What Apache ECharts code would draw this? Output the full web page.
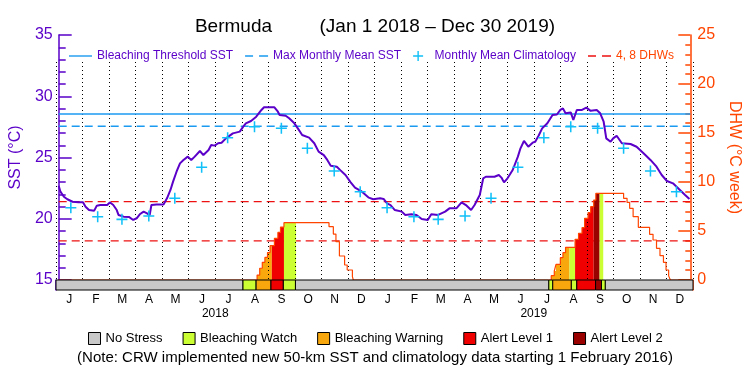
<!DOCTYPE html>
<html>
<head>
<meta charset="utf-8">
<script src="https://cdn.jsdelivr.net/npm/echarts@6/dist/echarts.min.js"></script>
<style>
  html, body { margin: 0; padding: 0; background: #fff; }
  #chart { width: 750px; height: 375px; }
</style>
</head>
<body>
<div id="chart"></div>
<script>
// ---- data (days counted from Jan 1 2018) ----
var startDate = Date.UTC(2018, 0, 1);
var endDay = 729;
var monthLabels = ['J','F','M','A','M','J','J','A','S','O','N','D','J','F','M','A','M','J','J','A','S','O','N','D'];
var yearLabels = ['2018', '2019'];

// daily SST (purple line)
var sstDays = [0, 2, 6, 10, 16, 23, 28, 31, 35, 41, 44, 48, 56, 59, 63, 67, 69, 75, 81, 86, 90, 94, 98, 102, 105, 107, 113, 121, 125, 129, 132, 136, 140, 144, 149, 153, 157, 163, 167, 173, 176, 180, 184, 188, 193, 201, 209, 213, 216, 222, 228, 234, 237, 249, 253, 255, 262, 266, 272, 276, 281, 289, 295, 300, 306, 310, 314, 321, 325, 331, 337, 342, 350, 358, 363, 371, 375, 379, 383, 388, 396, 400, 407, 413, 419, 426, 430, 438, 446, 451, 459, 465, 470, 476, 480, 486, 490, 493, 503, 508, 511, 514, 518, 524, 530, 533, 537, 542, 547, 550, 554, 558, 564, 570, 575, 579, 582, 585, 591, 594, 598, 604, 609, 614, 621, 625, 629, 632, 637, 640, 644, 650, 660, 667, 675, 683, 690, 696, 702, 709, 717, 723, 728];
var sstValues = [22.70, 22.21, 21.80, 21.59, 21.39, 21.34, 21.34, 20.98, 20.71, 20.66, 21.07, 21.12, 21.12, 21.34, 21.12, 20.71, 20.31, 20.17, 20.15, 19.90, 20.04, 20.39, 20.58, 20.44, 20.30, 21.12, 21.17, 21.17, 21.67, 22.35, 23.03, 23.84, 24.52, 24.80, 25.07, 24.80, 25.07, 25.53, 25.20, 25.61, 26.02, 25.97, 26.16, 26.21, 26.56, 26.97, 27.11, 27.52, 27.79, 27.98, 28.33, 28.88, 29.10, 29.10, 28.74, 28.47, 28.41, 28.20, 27.79, 27.38, 26.84, 26.62, 26.16, 25.48, 25.20, 24.80, 24.33, 24.25, 23.97, 23.57, 22.97, 22.54, 22.21, 21.72, 21.59, 21.67, 21.62, 21.26, 21.12, 20.71, 20.58, 20.31, 20.37, 20.31, 19.98, 19.90, 20.37, 20.31, 20.58, 20.85, 20.85, 21.34, 21.12, 20.71, 21.12, 21.94, 23.30, 23.43, 23.43, 23.57, 23.36, 22.97, 23.30, 23.98, 25.07, 25.75, 26.35, 25.88, 26.21, 26.29, 26.80, 27.38, 27.79, 28.47, 28.51, 28.88, 29.01, 28.61, 28.68, 28.06, 28.88, 28.88, 29.07, 28.81, 28.88, 28.61, 27.92, 26.56, 26.29, 26.56, 26.78, 26.16, 26.10, 25.88, 25.34, 24.80, 24.25, 23.57, 23.08, 22.89, 22.35, 21.94, 21.61];

// monthly mean climatology (mid-month crosses), repeated each year
var climMidDays = [14, 45, 73, 104, 134, 165, 195, 226, 257, 287, 318, 348];
var climValues = [20.90, 20.17, 19.95, 20.22, 21.67, 24.20, 26.62, 27.51, 27.38, 25.75, 23.90, 22.21];
var climYears = [0, 365];

var mmmSst = 27.55;
var thresholdSst = 28.55;
var dhwLevels = [4, 8];

// degree heating weeks, change points (value holds until next day listed)
var dhwDays = [0, 229, 232, 235, 238, 241, 244, 249, 253, 256, 260, 312, 317, 320, 324, 330, 333, 339, 340, 568.5, 572, 574, 579, 582, 585, 596, 600, 604, 607, 611, 614, 617.5, 620, 652, 656, 659, 663, 669, 682, 686, 690, 694, 698, 701, 704, 706, 729];
var dhwValues = [0, 0.50, 1.20, 1.80, 2.30, 2.80, 3.50, 4.25, 4.85, 5.40, 5.85, 5.44, 4.69, 3.91, 2.45, 1.53, 1.02, 0.34, 0, 0.44, 0.92, 1.60, 2.28, 2.79, 3.33, 4.15, 4.76, 5.34, 6.29, 6.87, 7.48, 8.16, 8.84, 8.33, 7.92, 7.31, 6.46, 5.37, 4.66, 4.08, 3.23, 2.48, 1.80, 1.02, 0.42, 0, 0];

// bleaching alert status, change points
var statusDays = [0, 214, 229, 246, 260, 274, 564, 568.5, 589.6, 596, 617.5, 624.3, 628.5];
var statusLevels = [0, 1, 2, 3, 1, 0, 1, 2, 1, 3, 4, 1, 0];
var statusNames = ['No Stress', 'Bleaching Watch', 'Bleaching Warning', 'Alert Level 1', 'Alert Level 2'];
var statusColors = ['#c8c8c8', '#ccff33', '#f8a80c', '#f00000', '#990000'];

// ---- helpers ----
var DAY = 86400000;
function ts(d) { return startDate + d * DAY; }
function dayOf(t) { return (t - startDate) / DAY; }
function dhwAt(d) {
  var v = 0;
  for (var i = 0; i < dhwDays.length; i++) { if (dhwDays[i] <= d) v = dhwValues[i]; }
  return v;
}

var purple = '#5a00c8';
var orange = '#ff4500';
var blue = '#1a9af0';
var red = '#ee1111';
var solidIcon = 'path://M0,4H23V5.4H0Z';
var dashIcon = 'path://M0,4H8V5.4H0Z M14,4H23V5.4H14Z';

var sstData = sstDays.map(function (d, i) { return [ts(d), sstValues[i]]; });
var dhwData = dhwDays.map(function (d, i) { return [ts(d), dhwValues[i]]; });
var climData = [];
climYears.forEach(function (y) {
  climMidDays.forEach(function (d, i) { climData.push([ts(y + d), climValues[i]]); });
});

// status periods
var periods = [];
for (var i = 0; i < statusDays.length; i++) {
  var e = i + 1 < statusDays.length ? statusDays[i + 1] : endDay;
  periods.push([ts(statusDays[i]), ts(e), statusLevels[i]]);
}

var statusSeries = statusNames.map(function (name, lvl) {
  return {
    name: name,
    type: 'custom',
    xAxisIndex: 3,
    yAxisIndex: 3,
    z: 5,
    itemStyle: { color: statusColors[lvl] },
    encode: { x: [0, 1] },
    data: periods.filter(function (p) { return p[2] === lvl; }),
    renderItem: function (params, api) {
      var p0 = api.coord([api.value(0), 0]);
      var p1 = api.coord([api.value(1), 1]);
      return {
        type: 'rect',
        shape: { x: p0[0], y: p1[1], width: p1[0] - p0[0], height: p0[1] - p1[1] },
        style: { fill: statusColors[lvl], stroke: '#000', lineWidth: 1 }
      };
    }
  };
});

// coloured fill under the DHW curve, by status
var fillSeries = {
  name: 'dhwFill',
  type: 'custom',
  xAxisIndex: 0,
  yAxisIndex: 1,
  z: 2,
  encode: { x: [0, 1] },
  data: periods.filter(function (p) { return p[2] > 0; }),
  renderItem: function (params, api) {
    var s = api.value(0), e = api.value(1), lvl = api.value(2);
    var sd = dayOf(s), ed = dayOf(e);
    var v = dhwAt(sd);
    var pts = [api.coord([s, 0]), api.coord([s, v])];
    for (var i = 0; i < dhwDays.length; i++) {
      if (dhwDays[i] > sd && dhwDays[i] < ed) {
        pts.push(api.coord([ts(dhwDays[i]), v]));
        v = dhwValues[i];
        pts.push(api.coord([ts(dhwDays[i]), v]));
      }
    }
    pts.push(api.coord([e, v]));
    pts.push(api.coord([e, 0]));
    return { type: 'polygon', shape: { points: pts }, style: { fill: statusColors[lvl] } };
  }
};

var chart = echarts.init(document.getElementById('chart'));
chart.setOption({
  animation: false,
  textStyle: { fontFamily: 'Liberation Sans' },
  title: [
    {
      text: 'Bermuda         (Jan 1 2018 \u2013 Dec 30 2019)',
      left: 'center', top: 12,
      textStyle: { fontSize: 19, fontWeight: 'normal', color: '#000' }
    },
    {
      text: '(Note: CRW implemented new 50-km SST and climatology data starting 1 February 2016)',
      left: 'center', top: 345,
      textStyle: { fontSize: 15, fontWeight: 'normal', color: '#000' }
    }
  ],
  legend: [
    {
      left: 64, top: 45,
      itemWidth: 23, itemHeight: 10, itemGap: 12,
      textStyle: { color: purple, fontSize: 12 },
      data: [
        { name: 'Bleaching Threshold SST', icon: solidIcon },
        { name: 'Max Monthly Mean SST', icon: dashIcon },
        { name: 'Monthly Mean Climatology' },
        { name: '4, 8 DHWs', icon: dashIcon, textStyle: { color: orange } }
      ]
    },
    {
      left: 83, top: 327,
      itemWidth: 12, itemHeight: 12, itemGap: 20,
      icon: 'rect',
      itemStyle: { borderColor: '#000', borderWidth: 1 },
      textStyle: { color: '#000', fontSize: 13 },
      data: statusNames
    }
  ],
  grid: [
    { left: 56, right: 57, top: 35, bottom: 95 },
    { left: 56, right: 57, top: 62, bottom: 95 },
    { left: 56, right: 57, top: 280, height: 10 }
  ],
  xAxis: [
    {
      type: 'time', gridIndex: 0, position: 'top', min: ts(0), max: ts(endDay),
      axisLine: { lineStyle: { color: '#000', width: 1 } },
      axisTick: { show: false }, axisLabel: { show: false }, splitLine: { show: false }
    },
    {
      type: 'category', gridIndex: 1, position: 'bottom', data: monthLabels, boundaryGap: true, z: 3,
      axisLine: { show: false }, axisTick: { show: false },
      axisLabel: { interval: 0, color: '#000', fontSize: 12, margin: 14 },
      splitLine: { show: true, interval: 0, lineStyle: { color: '#000', type: [1, 3], width: 1 } }
    },
    {
      type: 'category', gridIndex: 1, position: 'bottom', data: yearLabels, boundaryGap: true, offset: 14,
      axisLine: { show: false }, axisTick: { show: false },
      axisLabel: { interval: 0, color: '#000', fontSize: 12, margin: 14 },
      splitLine: { show: false }
    },
    { type: 'time', gridIndex: 2, min: ts(0), max: ts(endDay), show: false }
  ],
  yAxis: [
    {
      type: 'value', gridIndex: 0, position: 'left', min: 15, max: 35, interval: 5,
      name: 'SST (\u00b0C)', nameLocation: 'middle', nameGap: 33, nameRotate: 90,
      nameTextStyle: { color: purple, fontSize: 16 },
      axisLine: { show: true, lineStyle: { color: purple, width: 1.5 } },
      axisTick: { show: true, inside: true, length: 13, lineStyle: { color: purple, width: 1.5 } },
      minorTick: { show: true, splitNumber: 5, length: 7, lineStyle: { color: purple, width: 1.5 } },
      axisLabel: { color: purple, fontSize: 16, margin: 6 },
      splitLine: { show: false }
    },
    {
      type: 'value', gridIndex: 0, position: 'right', min: 0, max: 25, interval: 5,
      name: 'DHW (\u00b0C week)', nameLocation: 'middle', nameGap: 29, nameRotate: -90,
      nameTextStyle: { color: orange, fontSize: 16 },
      axisLine: { show: true, lineStyle: { color: orange, width: 1.5 } },
      axisTick: { show: true, inside: true, length: 12, lineStyle: { color: orange, width: 1.5 } },
      minorTick: { show: true, splitNumber: 5, length: 5, lineStyle: { color: orange, width: 1.5 } },
      axisLabel: { color: orange, fontSize: 16, margin: 7 },
      splitLine: { show: false }
    },
    { type: 'value', gridIndex: 1, min: 0, max: 1, show: false },
    {
      type: 'value', gridIndex: 2, position: 'left', min: 0, max: 1,
      axisLine: { show: true, lineStyle: { color: purple, width: 1.5 } },
      axisTick: { show: false }, axisLabel: { show: false }, splitLine: { show: false }
    },
    {
      type: 'value', gridIndex: 2, position: 'right', min: 0, max: 1,
      axisLine: { show: true, lineStyle: { color: orange, width: 1.5 } },
      axisTick: { show: false }, axisLabel: { show: false }, splitLine: { show: false }
    }
  ],
  series: [
    {
      name: '4, 8 DHWs', type: 'line', xAxisIndex: 0, yAxisIndex: 1, z: 1,
      symbol: 'none', itemStyle: { color: red },
      lineStyle: { color: red, width: 1.2, type: [8, 5] },
      data: [[ts(0), dhwLevels[0]], [ts(endDay), dhwLevels[0]]]
    },
    {
      name: '4, 8 DHWs', type: 'line', xAxisIndex: 0, yAxisIndex: 1, z: 1,
      symbol: 'none', itemStyle: { color: red },
      lineStyle: { color: red, width: 1.2, type: [8, 5] },
      data: [[ts(0), dhwLevels[1]], [ts(endDay), dhwLevels[1]]]
    },
    fillSeries,
    {
      name: 'DHW', type: 'line', xAxisIndex: 0, yAxisIndex: 1, z: 3,
      step: 'end', symbol: 'none',
      lineStyle: { color: orange, width: 1.2 },
      data: dhwData
    },
    {
      name: 'Bleaching Threshold SST', type: 'line', xAxisIndex: 0, yAxisIndex: 0, z: 3,
      symbol: 'none', itemStyle: { color: blue },
      lineStyle: { color: blue, width: 1.5 },
      data: [[ts(0), thresholdSst], [ts(endDay), thresholdSst]]
    },
    {
      name: 'Max Monthly Mean SST', type: 'line', xAxisIndex: 0, yAxisIndex: 0, z: 3,
      symbol: 'none', itemStyle: { color: blue },
      lineStyle: { color: blue, width: 1.5, type: [8, 5] },
      data: [[ts(0), mmmSst], [ts(endDay), mmmSst]]
    },
    {
      name: 'Monthly Mean Climatology', type: 'scatter', xAxisIndex: 0, yAxisIndex: 0, z: 4,
      symbol: 'path://M0,4.3H10V5.7H0Z M4.3,0H5.7V10H4.3Z', symbolSize: 11,
      itemStyle: { color: '#10c0f8', opacity: 1 },
      data: climData
    },
    {
      name: 'SST', type: 'line', xAxisIndex: 0, yAxisIndex: 0, z: 4,
      symbol: 'none',
      lineStyle: { color: purple, width: 2 },
      data: sstData
    }
  ].concat(statusSeries)
});
</script>
</body>
</html>
